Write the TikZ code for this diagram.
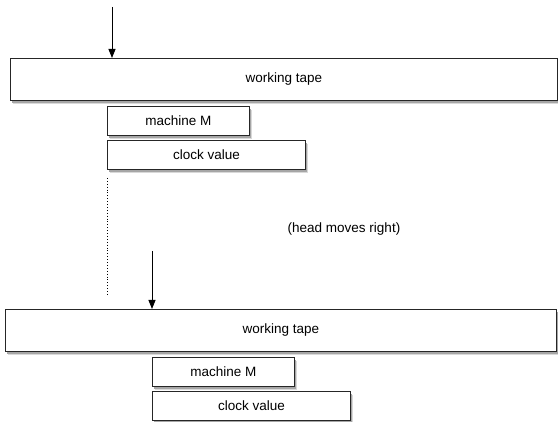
\documentclass[tikz,border=0pt]{standalone}
\usepackage{fontspec}
\setmainfont{Liberation Sans}
\usetikzlibrary{arrows.meta,shadows}
\begin{document}
\begin{tikzpicture}[x=1pt,y=-1pt,
  box/.style={draw=black!85,fill=white,line width=0.9pt,
    general shadow={shadow xshift=2.5pt,shadow yshift=-3.5pt,shadow scale=1,fill=black!15},
    general shadow={shadow xshift=1.5pt,shadow yshift=-2.5pt,shadow scale=1,fill=black!35}},
  lbl/.style={font=\fontsize{13.5}{16}\selectfont},
  head/.style={-{Triangle[length=9pt,width=7pt]},line width=0.9pt}]
\useasboundingbox (0,0) rectangle (558,422);
% top configuration
\node[box,lbl,minimum width=547pt,minimum height=42pt,anchor=north west] (t1) at (10,58) {working tape};
\node[box,lbl,minimum width=142pt,minimum height=29pt,anchor=north west] (m1) at (107,106) {machine M};
\node[box,lbl,minimum width=198pt,minimum height=29pt,anchor=north west] (c1) at (107,140) {clock value};
\coordinate (a1) at (112,7);
\draw[head] (a1) -- (t1.north west -| a1);
% dotted line
\coordinate (d1) at (107,178);
\coordinate (d2) at (107,296);
\draw[dotted,line width=0.9pt] (d1) -- (d2);
\node[lbl] (hm) at (344,229) {(head moves right)};
% bottom configuration
\node[box,lbl,minimum width=551pt,minimum height=42pt,anchor=north west] (t2) at (5,309) {working tape};
\node[box,lbl,minimum width=142pt,minimum height=29pt,anchor=north west] (m2) at (152,357) {machine M};
\node[box,lbl,minimum width=198pt,minimum height=29pt,anchor=north west] (c2) at (152,391) {clock value};
\coordinate (a2) at (152,251);
\draw[head] (a2) -- (t2.north west -| a2);
\end{tikzpicture}
\end{document}
